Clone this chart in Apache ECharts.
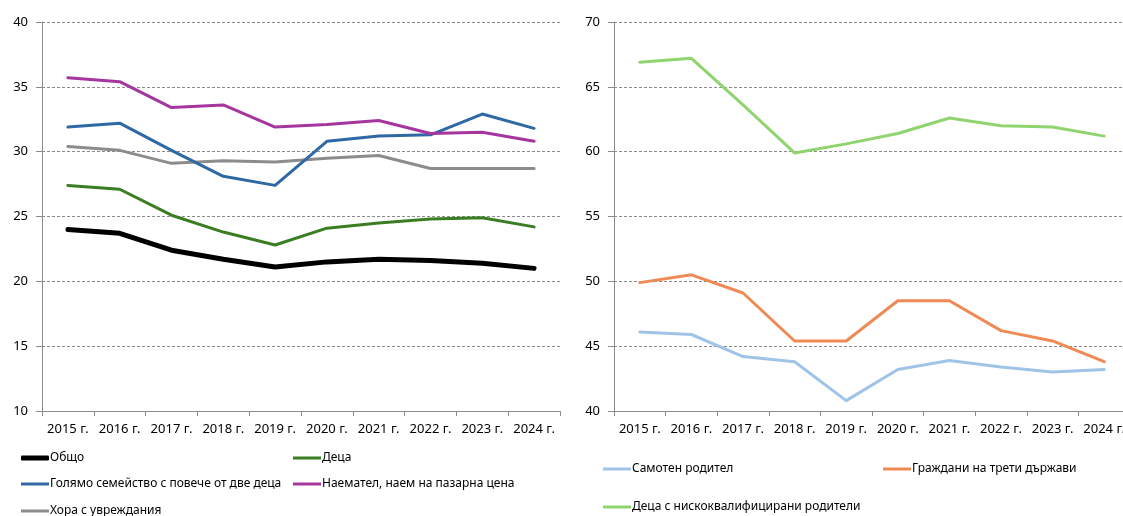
<!DOCTYPE html>
<html>
<head>
<meta charset="utf-8">
<script src="https://cdn.jsdelivr.net/npm/echarts@6/dist/echarts.min.js"></script>
<style>
  html, body { margin: 0; padding: 0; background: #fff; }
  #chart { width: 1123px; height: 516px; }
</style>
</head>
<body>
<div id="chart"></div>
<script>
// години
const years = ['2015 г.', '2016 г.', '2017 г.', '2018 г.', '2019 г.', '2020 г.', '2021 г.', '2022 г.', '2023 г.', '2024 г.'];

// лява графика
const obshto = [24.0, 23.7, 22.4, 21.7, 21.1, 21.5, 21.7, 21.6, 21.4, 21.0];
const deca = [27.4, 27.1, 25.1, 23.8, 22.8, 24.1, 24.5, 24.8, 24.9, 24.2];
const golyamoSemeystvo = [31.9, 32.2, 30.1, 28.1, 27.4, 30.8, 31.2, 31.3, 32.9, 31.8];
const naematel = [35.7, 35.4, 33.4, 33.6, 31.9, 32.1, 32.4, 31.4, 31.5, 30.8];
const uvrezhdaniya = [30.4, 30.1, 29.1, 29.3, 29.2, 29.5, 29.7, 28.7, 28.7, 28.7];

// дясна графика
const samotenRoditel = [46.1, 45.9, 44.2, 43.8, 40.8, 43.2, 43.9, 43.4, 43.0, 43.2];
const tretiDarzhavi = [49.9, 50.5, 49.1, 45.4, 45.4, 48.5, 48.5, 46.2, 45.4, 43.8];
const niskokvalificirani = [66.9, 67.2, 63.6, 59.9, 60.6, 61.4, 62.6, 62.0, 61.9, 61.2];

const fontFamily = '"Noto Sans", "Open Sans", sans-serif';
const axisGray = '#8c8c8c';

const chart = echarts.init(document.getElementById('chart'));

const makeX = (gridIndex) => ({
  type: 'category',
  gridIndex,
  data: years,
  boundaryGap: true,
  axisLine: { lineStyle: { color: axisGray, width: 1 } },
  axisTick: { show: true, length: 5, interval: 0, lineStyle: { color: axisGray } },
  axisLabel: { color: '#000', fontSize: 13, fontFamily, margin: 12, interval: 0 },
  splitLine: { show: false }
});

const makeY = (gridIndex, min, max) => ({
  type: 'value',
  gridIndex,
  min,
  max,
  interval: 5,
  axisLine: { show: true, lineStyle: { color: axisGray, width: 1 } },
  axisTick: { show: true, length: 6, lineStyle: { color: axisGray } },
  axisLabel: { color: '#000', fontSize: 13, fontFamily, margin: 14 },
  splitLine: { show: true, lineStyle: { color: '#8a8a8a', type: [3, 2], width: 1 } }
});

const line = (name, data, color, width, idx) => ({
  name,
  type: 'line',
  xAxisIndex: idx,
  yAxisIndex: idx,
  data,
  symbol: 'none',
  smooth: false,
  lineStyle: { color, width, cap: 'round', join: 'round' },
  itemStyle: { color },
  z: width > 4 ? 3 : 2
});

const legendItem = (name, left, top, color, h) => ({
  left,
  top,
  data: [{ name, icon: h > 3 ? 'roundRect' : 'rect', itemStyle: { color } }],
  itemWidth: 28,
  itemHeight: h,
  textStyle: { color: '#000', fontSize: 12, fontFamily, lineHeight: 14, padding: [0, 0, 0, -4] },
  selectedMode: false
});

const option = {
  animation: false,
  backgroundColor: '#fff',
  grid: [
    { left: 42, top: 22, width: 518, height: 389, outerBoundsMode: 'none' },
    { left: 614, top: 22, width: 516, height: 389, outerBoundsMode: 'none' }
  ],
  xAxis: [makeX(0), makeX(1)],
  yAxis: [makeY(0, 10, 40), makeY(1, 40, 70)],
  legend: [
    legendItem('Общо', 16, 446, '#000000', 5),
    legendItem('Деца', 288, 446, '#3b7d23', 3),
    legendItem('Голямо семейство с повече от две деца', 16, 472, '#2e69a6', 3),
    legendItem('Наемател, наем на пазарна цена', 288, 472, '#a5359f', 3),
    legendItem('Хора с увреждания', 16, 499, '#8c8c8c', 3),
    legendItem('Самотен родител', 598, 457, '#9fc4e7', 3),
    legendItem('Граждани на трети държави', 878, 457, '#ef8a55', 3),
    legendItem('Деца с нискоквалифицирани родители', 598, 495, '#8fd46f', 3)
  ],
  series: [
    line('Хора с увреждания', uvrezhdaniya, '#8c8c8c', 3, 0),
    line('Деца', deca, '#3b7d23', 3, 0),
    line('Голямо семейство с повече от две деца', golyamoSemeystvo, '#2e69a6', 3, 0),
    line('Наемател, наем на пазарна цена', naematel, '#a5359f', 3, 0),
    line('Общо', obshto, '#000000', 5, 0),
    line('Самотен родител', samotenRoditel, '#9fc4e7', 3, 1),
    line('Граждани на трети държави', tretiDarzhavi, '#ef8a55', 3, 1),
    line('Деца с нискоквалифицирани родители', niskokvalificirani, '#8fd46f', 3, 1)
  ]
};

chart.setOption(option);
</script>
</body>
</html>
